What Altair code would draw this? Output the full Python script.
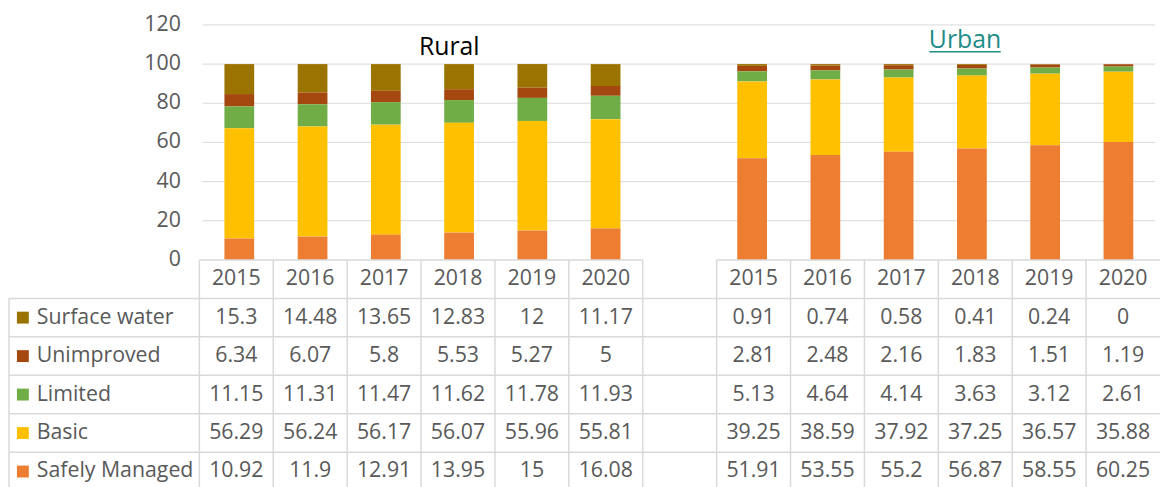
import altair as alt
import pandas as pd

# ---------------- data ----------------
years = ["2015", "2016", "2017", "2018", "2019", "2020"]
groups = ["Rural", "Urban"]
services = ["Surface water", "Unimproved", "Limited", "Basic", "Safely Managed"]
service_colors = ["#9A7300", "#A5480F", "#70AD47", "#FFC000", "#ED7D31"]

rural_surface_water = [15.3, 14.48, 13.65, 12.83, 12, 11.17]
rural_unimproved = [6.34, 6.07, 5.8, 5.53, 5.27, 5]
rural_limited = [11.15, 11.31, 11.47, 11.62, 11.78, 11.93]
rural_basic = [56.29, 56.24, 56.17, 56.07, 55.96, 55.81]
rural_safely_managed = [10.92, 11.9, 12.91, 13.95, 15, 16.08]

urban_surface_water = [0.91, 0.74, 0.58, 0.41, 0.24, 0]
urban_unimproved = [2.81, 2.48, 2.16, 1.83, 1.51, 1.19]
urban_limited = [5.13, 4.64, 4.14, 3.63, 3.12, 2.61]
urban_basic = [39.25, 38.59, 37.92, 37.25, 36.57, 35.88]
urban_safely_managed = [51.91, 53.55, 55.2, 56.87, 58.55, 60.25]

y_ticks = [0, 20, 40, 60, 80, 100, 120]

series = {
    "Rural": [rural_surface_water, rural_unimproved, rural_limited,
              rural_basic, rural_safely_managed],
    "Urban": [urban_surface_water, urban_unimproved, urban_limited,
              urban_basic, urban_safely_managed],
}

# ---------------- layout constants ----------------
N_COLS = 13            # 6 rural + 1 empty + 6 urban columns
GAP_COL = 6
LABEL_COLS = 2.576     # width of the row-label column, in column units
W = 1161
TOP_PAD = 3
TOP_H = 247
TAB_H = 229
Y_MAX = 125.06
ROW_UNITS = 5.9
TXT = "#595959"
GRID = "#D9D9D9"
FONT = "Open Sans"
FS = 21.5


def col_of(gi, i):
    return gi * (GAP_COL + 1) + i


# bars
bar_rows = []
for gi, g in enumerate(groups):
    for si, s in enumerate(services):
        for i, y in enumerate(years):
            bar_rows.append({
                "group": g, "year": y, "service": s,
                "value": series[g][si][i],
                "x": col_of(gi, i) + 0.5,
                "order": len(services) - 1 - si,
            })
df_bars = pd.DataFrame(bar_rows)

# table cells
cell_rows = []
for gi, g in enumerate(groups):
    for si, s in enumerate(services):
        for i, y in enumerate(years):
            cell_rows.append({
                "x": col_of(gi, i) + 0.5, "row": si + 1.5,
                "label": f"{series[g][si][i]:g}",
            })
df_cells = pd.DataFrame(cell_rows)

df_head = pd.DataFrame([
    {"x": col_of(gi, i) + 0.5, "row": 0.5, "label": y}
    for gi, g in enumerate(groups) for i, y in enumerate(years)
])

df_rowlab = pd.DataFrame([
    {"x": -LABEL_COLS, "row": si + 1.5, "service": s}
    for si, s in enumerate(services)
])

df_ticks = pd.DataFrame({"tick": y_ticks, "x0": 0,
                         "label": [str(t) for t in y_ticks]})
df_grid = pd.DataFrame({"tick": y_ticks[1:], "x0": 0, "x1": N_COLS})

df_titles = pd.DataFrame({"title": groups,
                          "x": [col_of(gi, 3) for gi in range(len(groups))]})

# table border lines
h_lines = [{"y": k, "x0": -LABEL_COLS, "x1": N_COLS} for k in range(1, 6)]
h_lines += [{"y": 0, "x0": 0, "x1": GAP_COL},
            {"y": 0, "x0": GAP_COL + 1, "x1": N_COLS}]
df_h = pd.DataFrame(h_lines)
v_lines = [{"x": k, "y0": 0, "y1": ROW_UNITS} for k in range(0, N_COLS)]
v_lines += [{"x": -LABEL_COLS, "y0": 1, "y1": ROW_UNITS}]
df_v = pd.DataFrame(v_lines)

# ---------------- scales ----------------
x_scale = alt.Scale(domain=[-LABEL_COLS, N_COLS], nice=False, zero=False)
y_top = alt.Scale(domain=[0, Y_MAX], nice=False, zero=False)
y_tab = alt.Scale(domain=[0, ROW_UNITS], nice=False, zero=False, reverse=True)
color_scale = alt.Scale(domain=services, range=service_colors)


def X(f):
    return alt.X(f, scale=x_scale, axis=None)


# ---------------- top: stacked columns ----------------
grid = alt.Chart(df_grid).mark_rule(color=GRID, strokeWidth=1).encode(
    x=X("x0:Q"), x2="x1:Q",
    y=alt.Y("tick:Q", scale=y_top, axis=None),
)

ylabels = alt.Chart(df_ticks).mark_text(
    align="right", baseline="middle", dx=-22, fontSize=FS, color=TXT, font=FONT
).encode(
    x=X("x0:Q"), y=alt.Y("tick:Q", scale=y_top, axis=None), text="label:N"
)

bars = alt.Chart(df_bars).mark_bar(size=30).encode(
    x=X("x:Q"),
    y=alt.Y("value:Q", stack="zero", scale=y_top, axis=None),
    color=alt.Color("service:N", scale=color_scale, legend=None),
    order=alt.Order("order:Q", sort="ascending"),
    tooltip=["group:N", "year:N", "service:N", "value:Q"],
)

rural_title = alt.Chart(df_titles).transform_filter(
    alt.datum.title == "Rural"
).mark_text(
    align="center", baseline="alphabetic", dx=27, fontSize=25,
    color="#000000", font=FONT
).encode(x=X("x:Q"), y=alt.value(40), text="title:N")

urban_title = alt.Chart(df_titles).transform_filter(
    alt.datum.title == "Urban"
).mark_text(
    align="center", baseline="alphabetic", dx=30, fontSize=25,
    color="#1E8C87", font=FONT
).encode(x=X("x:Q"), y=alt.value(33), text="title:N")

urban_underline = alt.Chart(df_titles).transform_filter(
    alt.datum.title == "Urban"
).mark_rule(color="#1E8C87", strokeWidth=1.5, xOffset=-6, x2Offset=66).encode(
    x=X("x:Q"), x2="x:Q", y=alt.value(37)
)

top = alt.layer(grid, ylabels, bars, rural_title, urban_title,
                urban_underline).properties(width=W, height=TOP_H)

# ---------------- bottom: data table ----------------
hl = alt.Chart(df_h).mark_rule(color=GRID, strokeWidth=1.5).encode(
    x=X("x0:Q"), x2="x1:Q", y=alt.Y("y:Q", scale=y_tab, axis=None)
)
vl = alt.Chart(df_v).mark_rule(color=GRID, strokeWidth=1.5).encode(
    x=X("x:Q"), y=alt.Y("y0:Q", scale=y_tab, axis=None), y2="y1:Q"
)
head = alt.Chart(df_head).mark_text(
    align="center", baseline="middle", fontSize=FS, color=TXT, font=FONT
).encode(x=X("x:Q"), y=alt.Y("row:Q", scale=y_tab, axis=None), text="label:N")
cells = alt.Chart(df_cells).mark_text(
    align="center", baseline="middle", fontSize=FS, color=TXT, font=FONT
).encode(x=X("x:Q"), y=alt.Y("row:Q", scale=y_tab, axis=None), text="label:N")
swatches = alt.Chart(df_rowlab).mark_square(
    size=144, opacity=1, filled=True, xOffset=14
).encode(
    x=X("x:Q"), y=alt.Y("row:Q", scale=y_tab, axis=None),
    color=alt.Color("service:N", scale=color_scale, legend=None),
)
rowlabels = alt.Chart(df_rowlab).mark_text(
    align="left", baseline="middle", dx=28, fontSize=FS, color=TXT, font=FONT
).encode(x=X("x:Q"), y=alt.Y("row:Q", scale=y_tab, axis=None), text="service:N")

table = alt.layer(hl, vl, head, cells, swatches, rowlabels).properties(
    width=W, height=TAB_H
)

chart = alt.vconcat(top, table, spacing=0, bounds="flush").properties(
    padding={"left": 0, "right": 0, "top": TOP_PAD, "bottom": 0},
    background="white",
).configure_view(strokeWidth=0).configure_text(font=FONT)

chart.save("out.html", embed_options={"renderer": "svg", "actions": False})
